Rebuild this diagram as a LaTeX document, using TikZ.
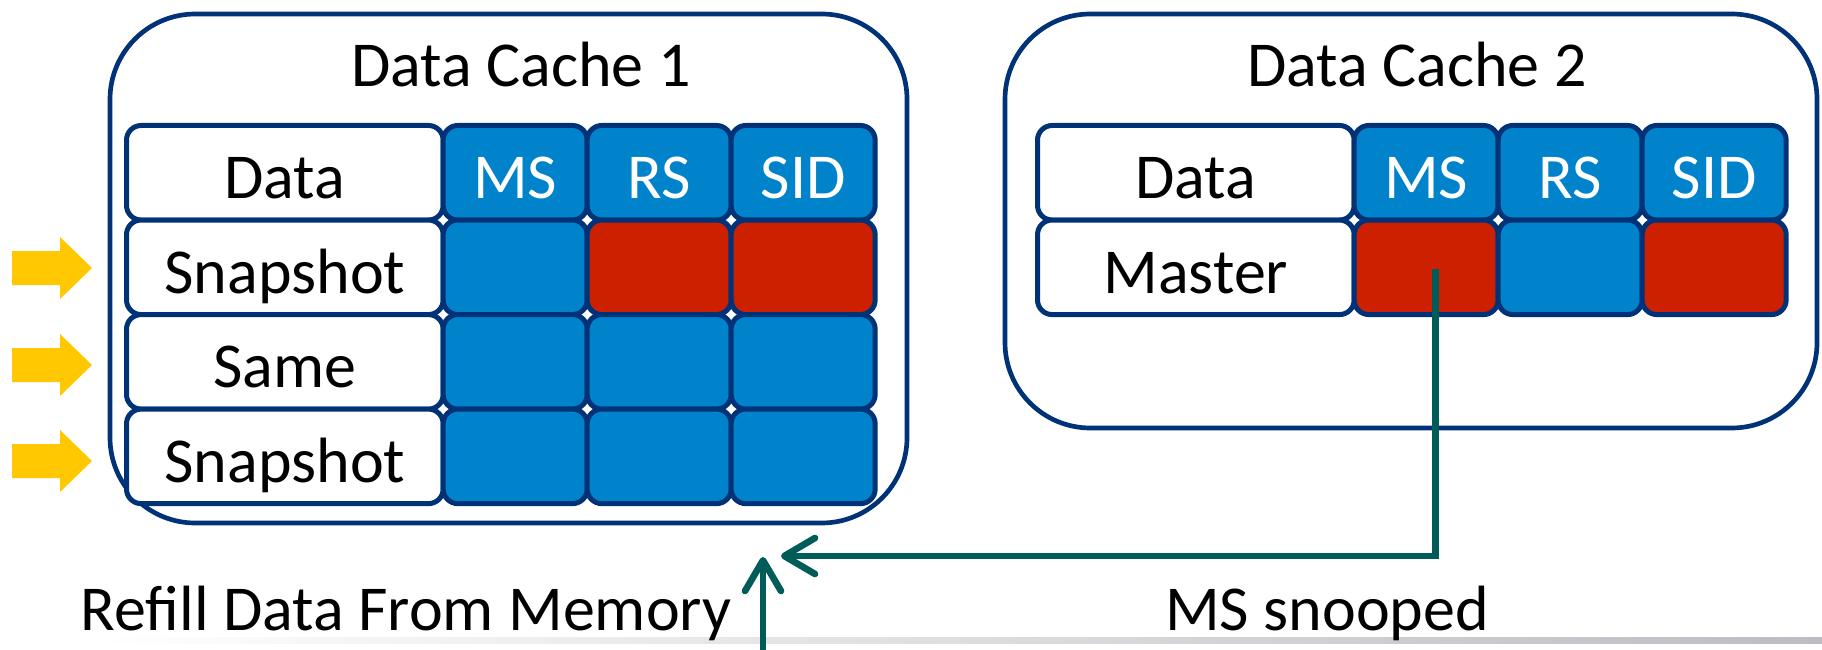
\documentclass[tikz,border=0pt]{standalone}
\usepackage{fontspec}
\setmainfont{Carlito}
\usepackage{tikz}
\usetikzlibrary{calc,positioning,arrows.meta}
\definecolor{cachenavy}{RGB}{0,50,120}
\definecolor{flagblue}{RGB}{0,131,202}
\definecolor{flagred}{RGB}{204,32,0}
\definecolor{refillyellow}{RGB}{255,200,0}
\definecolor{snoopteal}{RGB}{0,92,88}
\definecolor{bargray}{RGB}{188,188,194}
\tikzstyle{cachebox} = [draw=cachenavy, line width=3.5pt, rounded corners=64pt, fill=white, outer sep=0pt, inner sep=0pt]
\tikzstyle{cell} = [draw=cachenavy, line width=3.75pt, rounded corners=11pt, outer sep=0pt, inner sep=0pt, minimum height=70.9pt, text height=41pt, text depth=2pt]
\tikzstyle{datacell} = [cell, fill=white, minimum width=237.5pt]
\tikzstyle{flagcell} = [cell, fill=flagblue, text=white, minimum width=108pt]
\tikzstyle{setcell} = [cell, fill=flagred, minimum width=108pt]
\tikzstyle{wire} = [draw=snoopteal, line width=5pt, -{Straight Barb[length=23pt,width=27pt,round]}]

\begin{document}
\begin{tikzpicture}[x=0.75pt, y=-0.75pt, font=\fontsize{48}{58}\selectfont]
	\useasboundingbox (0,0) rectangle (1822,649);
	\shade[left color=white, right color=bargray] (100,637) rectangle (1822,643);

	% the two caches
	\node[cachebox, minimum width=597.75pt, minimum height=381.75pt] (cache1) at (508.5,268.5) {};
	\node[cachebox, minimum width=609pt, minimum height=310.5pt] (cache2) at (1411,221) {};
	\node[anchor=base] (title1) at (521,87) {Data Cache 1};
	\node[anchor=base] (title2) at (1417,87) {Data Cache 2};

	% cache 1 lines
	\node[datacell, anchor=north west] (c1d0) at (126.5,125.5) {Data};
	\node[flagcell, right=0pt of c1d0] (c1ms0) {MS};
	\node[flagcell, right=0pt of c1ms0] (c1rs0) {RS};
	\node[flagcell, right=0pt of c1rs0] (c1sid0) {SID};
	\node[datacell, below=0pt of c1d0] (c1d1) {Snapshot};
	\node[flagcell, right=0pt of c1d1] (c1ms1) {};
	\node[setcell, right=0pt of c1ms1] (c1rs1) {};
	\node[setcell, right=0pt of c1rs1] (c1sid1) {};
	\node[datacell, below=0pt of c1d1] (c1d2) {Same};
	\node[flagcell, right=0pt of c1d2] (c1ms2) {};
	\node[flagcell, right=0pt of c1ms2] (c1rs2) {};
	\node[flagcell, right=0pt of c1rs2] (c1sid2) {};
	\node[datacell, below=0pt of c1d2] (c1d3) {Snapshot};
	\node[flagcell, right=0pt of c1d3] (c1ms3) {};
	\node[flagcell, right=0pt of c1ms3] (c1rs3) {};
	\node[flagcell, right=0pt of c1rs3] (c1sid3) {};

	% cache 2 lines
	\node[datacell, anchor=north west] (c2d0) at (1037.5,125.5) {Data};
	\node[flagcell, right=0pt of c2d0] (c2ms0) {MS};
	\node[flagcell, right=0pt of c2ms0] (c2rs0) {RS};
	\node[flagcell, right=0pt of c2rs0] (c2sid0) {SID};
	\node[datacell, below=0pt of c2d0] (c2d1) {Master};
	\node[setcell, right=0pt of c2d1] (c2ms1) {};
	\node[flagcell, right=0pt of c2ms1] (c2rs1) {};
	\node[setcell, right=0pt of c2rs1] (c2sid1) {};

	% accessed lines
	\foreach \yy in {268,365,461}
		\fill[refillyellow] (12,\yy-17) -- (60,\yy-17) -- (60,\yy-31) -- (92,\yy)
			-- (60,\yy+31) -- (60,\yy+17) -- (12,\yy+17) -- cycle;

	% refill and snoop
	\coordinate (snooptip) at (781,556);
	\coordinate (membase) at (763,652);
	\coordinate (memtip) at (763,557);
	\draw[wire] ($(c2ms1.center)+(9,2)$) |- (snooptip);
	\draw[wire] (membase) -- (memtip);
	\node[anchor=base] (refill) at (406,630) {Refill Data From Memory};
	\node[anchor=base] (snooped) at (1327,630) {MS snooped};
\end{tikzpicture}
\end{document}
